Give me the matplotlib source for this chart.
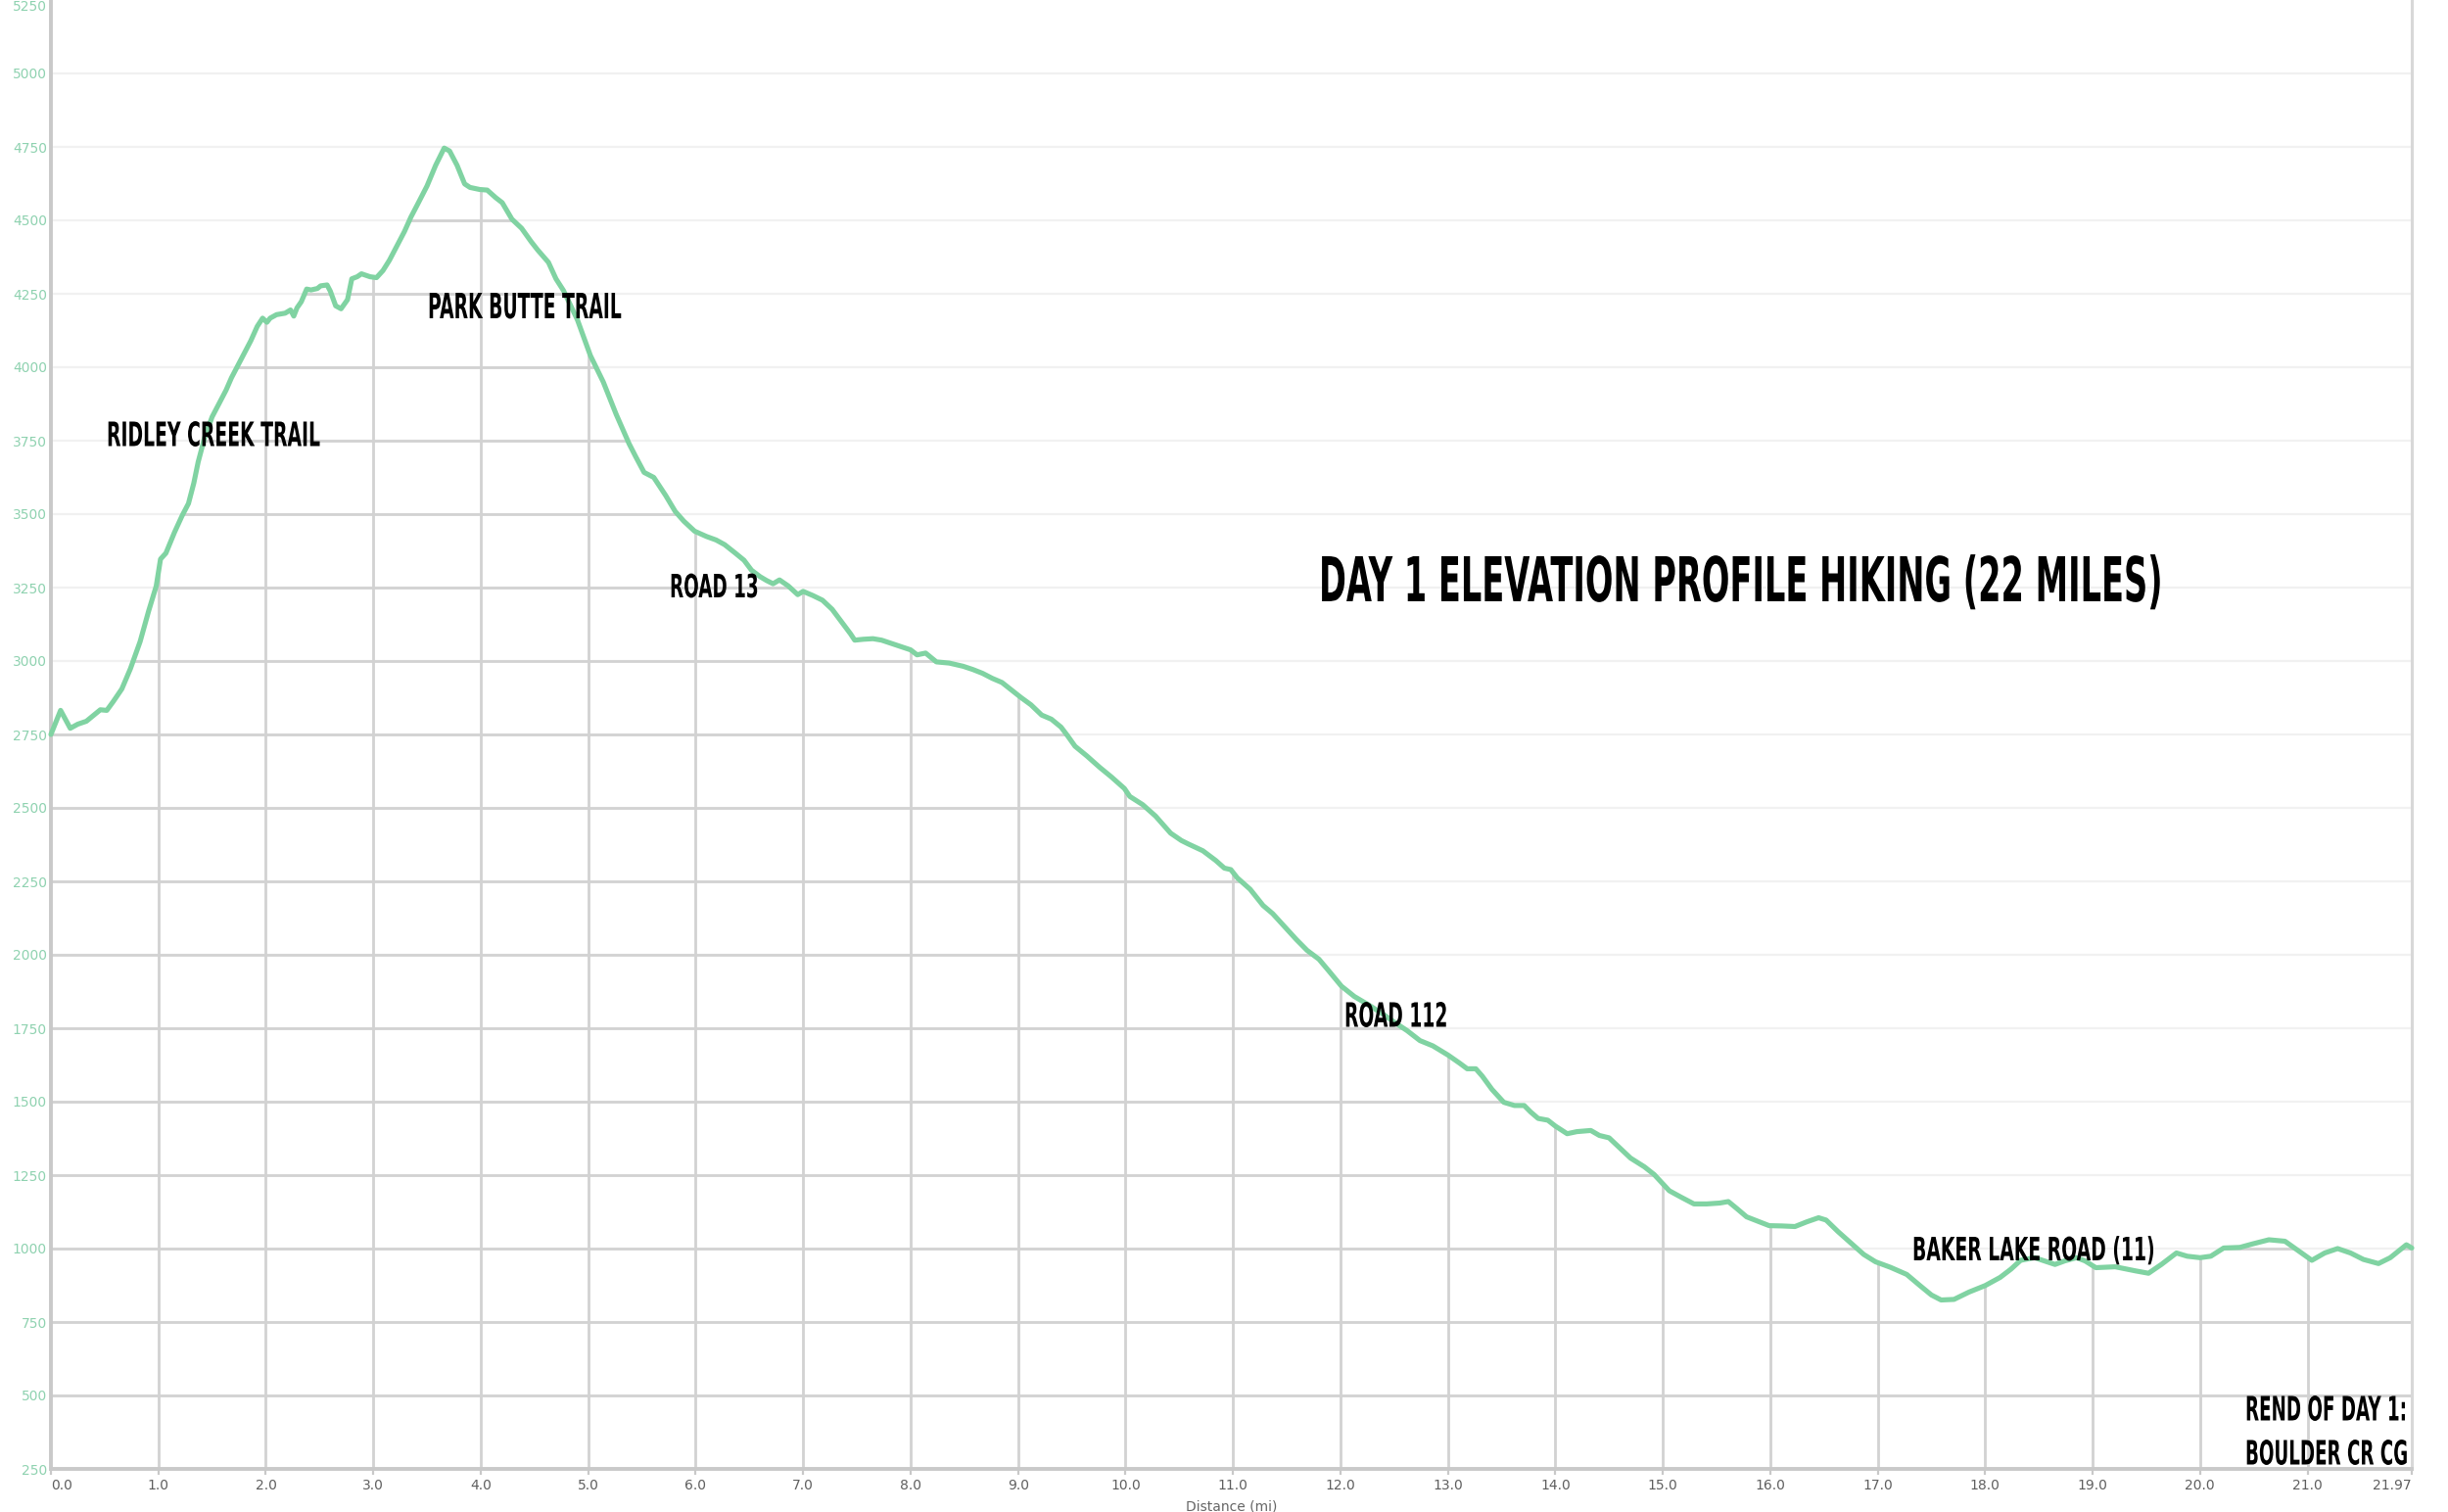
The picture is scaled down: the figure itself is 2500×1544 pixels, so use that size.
import matplotlib
matplotlib.use("Agg")
import matplotlib.pyplot as plt
from matplotlib.patches import Polygon
from matplotlib.patheffects import AbstractPathEffect
from matplotlib.transforms import Affine2D

# ---------------- data ----------------
dist_mi = [0.00, 0.09, 0.18, 0.25, 0.33, 0.40, 0.46, 0.52, 0.58, 0.66, 0.74, 0.83, 0.91, 0.98,
           1.02, 1.07, 1.15, 1.22, 1.28, 1.33, 1.37, 1.43, 1.50, 1.56, 1.63, 1.68, 1.74, 1.80,
           1.86, 1.92, 1.97, 2.01, 2.04, 2.10, 2.18, 2.23, 2.26, 2.29, 2.33, 2.38, 2.42, 2.48,
           2.51, 2.57, 2.60, 2.65, 2.70, 2.76, 2.80, 2.85, 2.89, 2.97, 3.03, 3.09, 3.15, 3.23,
           3.29, 3.35, 3.41, 3.50, 3.58, 3.66, 3.71, 3.78, 3.85, 3.90, 3.99, 4.06, 4.14, 4.20,
           4.29, 4.38, 4.47, 4.53, 4.63, 4.70, 4.77, 4.90, 5.02, 5.14, 5.26, 5.38, 5.44, 5.52,
           5.61, 5.72, 5.81, 5.89, 5.99, 6.10, 6.19, 6.27, 6.37, 6.45, 6.52, 6.60, 6.66, 6.72,
           6.78, 6.86, 6.95, 7.00, 7.09, 7.18, 7.27, 7.36, 7.44, 7.48, 7.56, 7.65, 7.73, 7.82,
           7.91, 8.00, 8.06, 8.14, 8.24, 8.36, 8.49, 8.58, 8.67, 8.76, 8.85, 8.94, 9.03, 9.12,
           9.22, 9.31, 9.40, 9.46, 9.53, 9.64, 9.76, 9.87, 9.99, 10.04, 10.16, 10.28, 10.42,
           10.52, 10.58, 10.72, 10.84, 10.92, 10.98, 11.04, 11.16, 11.28, 11.37, 11.48, 11.59,
           11.69, 11.80, 11.89, 12.01, 12.13, 12.26, 12.38, 12.50, 12.62, 12.74, 12.86, 13.00,
           13.11, 13.18, 13.26, 13.32, 13.41, 13.52, 13.62, 13.71, 13.77, 13.84, 13.93, 14.00,
           14.11, 14.20, 14.33, 14.41, 14.50, 14.59, 14.70, 14.83, 14.92, 15.06, 15.17, 15.29,
           15.41, 15.53, 15.61, 15.69, 15.78, 15.90, 15.99, 16.11, 16.23, 16.34, 16.45, 16.52,
           16.63, 16.75, 16.87, 16.98, 17.12, 17.27, 17.39, 17.50, 17.59, 17.71, 17.85, 18.00,
           18.14, 18.24, 18.33, 18.46, 18.55, 18.65, 18.74, 18.85, 18.93, 19.03, 19.21, 19.40,
           19.52, 19.64, 19.78, 19.88, 20.00, 20.10, 20.22, 20.37, 20.49, 20.64, 20.79, 20.92,
           21.04, 21.16, 21.28, 21.40, 21.52, 21.66, 21.77, 21.92, 21.97]
elev_ft = [2750, 2832, 2771, 2785, 2795, 2816, 2834, 2832, 2862, 2905, 2974, 3066, 3171, 3255,
           3347, 3367, 3438, 3494, 3536, 3606, 3677, 3760, 3831, 3873, 3922, 3964, 4006, 4048,
           4090, 4139, 4167, 4153, 4167, 4179, 4184, 4195, 4174, 4202, 4223, 4266, 4263, 4268,
           4277, 4280, 4259, 4209, 4199, 4230, 4301, 4308, 4318, 4308, 4305, 4329, 4364, 4420,
           4462, 4511, 4553, 4617, 4687, 4746, 4736, 4687, 4624, 4612, 4605, 4603, 4577, 4560,
           4504, 4473, 4427, 4399, 4357, 4301, 4261, 4161, 4040, 3950, 3840, 3740, 3697, 3642,
           3625, 3564, 3509, 3476, 3442, 3424, 3412, 3396, 3367, 3343, 3309, 3287, 3274, 3263,
           3276, 3256, 3226, 3237, 3223, 3207, 3176, 3132, 3093, 3071, 3074, 3076, 3071, 3060,
           3049, 3038, 3021, 3027, 2997, 2993, 2982, 2971, 2958, 2941, 2927, 2901, 2875, 2851,
           2816, 2802, 2775, 2746, 2710, 2677, 2638, 2605, 2566, 2539, 2511, 2472, 2414,
           2389, 2378, 2354, 2321, 2295, 2290, 2262, 2223, 2168, 2140, 2096, 2052,
           2015, 1985, 1946, 1893, 1858, 1830, 1802, 1771, 1742, 1708, 1690, 1659,
           1631, 1612, 1612, 1587, 1542, 1498, 1487, 1487, 1465, 1443, 1437, 1417,
           1391, 1398, 1402, 1385, 1377, 1346, 1308, 1278, 1252, 1197, 1175, 1152,
           1152, 1155, 1160, 1136, 1108, 1091, 1078, 1077, 1075, 1091, 1105, 1097,
           1058, 1019, 980, 955, 936, 912, 875, 842, 825, 827, 852, 874,
           902, 930, 960, 969, 958, 946, 958, 969, 958, 935, 938, 924,
           916, 946, 985, 974, 969, 974, 1002, 1004, 1016, 1030, 1025, 991,
           960, 985, 1000, 985, 963, 949, 969, 1013, 1002]

x_ticks = [0, 1, 2, 3, 4, 5, 6, 7, 8, 9, 10, 11, 12, 13, 14, 15, 16, 17, 18, 19, 20, 21, 21.97]
x_tick_labels = ["0.0", "1.0", "2.0", "3.0", "4.0", "5.0", "6.0", "7.0", "8.0", "9.0", "10.0",
                 "11.0", "12.0", "13.0", "14.0", "15.0", "16.0", "17.0", "18.0", "19.0",
                 "20.0", "21.0", "21.97"]
y_ticks = [250, 500, 750, 1000, 1250, 1500, 1750, 2000, 2250, 2500, 2750, 3000, 3250, 3500,
           3750, 4000, 4250, 4500, 4750, 5000, 5250]
y_tick_labels = [str(v) for v in y_ticks]

title_text = "DAY 1 ELEVATION PROFILE HIKING (22 MILES)"
label_texts = ["RIDLEY CREEK TRAIL", "PARK BUTTE TRAIL", "ROAD 13", "ROAD 112",
               "BAKER LAKE ROAD (11)", "REND OF DAY 1:", "BOULDER CR CG"]
x_label = "Distance (mi)"
y_label = "Elevation (ft)"

# ---------------- styling ----------------
W, H, DPI = 2500, 1544, 100
LINE_C = "#80d3a2"
YTICK_C = "#8fd2b0"
XTICK_C = "#5f5f5f"
GRID_DARK = "#d2d2d2"
GRID_FAINT = "#f1f1f1"
SPINE_C = "#c9c9c9"

fig = plt.figure(figsize=(W / DPI, H / DPI), dpi=DPI)
fig.patch.set_facecolor("white")
ax_left, ax_right, ax_top, ax_bot = 52, 2463, 0, 1500
ax = fig.add_axes([ax_left / W, 1 - ax_bot / H, (ax_right - ax_left) / W, (ax_bot - ax_top) / H])
ax.set_facecolor("white")
ax.set_xlim(0, 21.97)
ax.set_ylim(250, 5250)

# faint grid everywhere
ax.hlines(y_ticks[1:-1], 0, 21.97, colors=GRID_FAINT, linewidth=1.6, zorder=1)

# darker grid only under the profile
area = Polygon([(dist_mi[0], 250)] + list(zip(dist_mi, elev_ft)) + [(dist_mi[-1], 250)],
               closed=True, facecolor="none", edgecolor="none", transform=ax.transData)
hl = ax.hlines(y_ticks[1:-1], 0, 21.97, colors=GRID_DARK, linewidth=2.0, zorder=2)
vl = ax.vlines(x_ticks[1:-1], 250, 5250, colors=GRID_DARK, linewidth=2.0, zorder=2)
hl.set_clip_path(area)
vl.set_clip_path(area)

# profile line
ax.plot(dist_mi, elev_ft, color=LINE_C, linewidth=3.7, solid_joinstyle="round",
        solid_capstyle="round", zorder=4, clip_on=False)

# spines
ax.spines["top"].set_visible(False)
ax.spines["left"].set_color(SPINE_C)
ax.spines["left"].set_linewidth(2.8)
ax.spines["bottom"].set_color(SPINE_C)
ax.spines["bottom"].set_linewidth(2.8)
ax.spines["right"].set_color("#d8d8d8")
ax.spines["right"].set_linewidth(2.2)

# ticks
ax.set_xticks(x_ticks)
ax.set_xticklabels(x_tick_labels)
ax.set_yticks(y_ticks)
ax.set_yticklabels(y_tick_labels)
ax.tick_params(axis="x", colors=SPINE_C, labelcolor=XTICK_C, labelsize=10, length=4,
               width=1.6, pad=3.5)
ax.tick_params(axis="y", labelcolor=YTICK_C, labelsize=10, length=0, pad=3)
xt = ax.get_xticklabels()
xt[0].set_ha("left")
xt[-1].set_ha("right")
yt = ax.get_yticklabels()
yt[-1].set_va("top")
for lab in xt + yt:
    lab.set_family("DejaVu Sans")

ax.set_xlabel(x_label, fontsize=10, color="#666666")
ax.xaxis.set_label_coords(0.5, -(1532 - 1500) / 1500)
ax.set_ylabel(y_label, fontsize=10, color="#888888")
ax.yaxis.set_label_coords((2 - ax_left) / (ax_right - ax_left), 0.5)


# ---------------- condensed headline-style annotations ----------------
class GlyphScale(AbstractPathEffect):
    """Rescale glyph outlines about an anchor point (display px)."""

    def __init__(self, sx, sy, x0, y0):
        super().__init__()
        self.sx, self.sy, self.x0, self.y0 = sx, sy, x0, y0

    def draw_path(self, renderer, gc, tpath, affine, rgbFace=None):
        t = affine + (Affine2D().translate(-self.x0, -self.y0)
                      .scale(self.sx, self.sy).translate(self.x0, self.y0))
        renderer.draw_path(gc, tpath, t, rgbFace)


CAP_RATIO = 0.729  # DejaVu Sans Bold cap height / em
# (anchor, anchor x px, cap-centre y px, target width px, cap height px)
placements = [
    ("left", 109, 443, 218, 25),
    ("left", 437, 312, 198, 26),
    ("left", 684, 598, 91, 24),
    ("left", 1373, 1036, 105, 25),
    ("left", 1953, 1275, 247, 24),
    ("right", 2458, 1438, 165, 25),
    ("right", 2458, 1483, 165, 25),
    ("center", 1778, 591, 862, 46),
]
all_texts = label_texts + [title_text]
text_objs = []
for s, (anchor, axp, cy, tw, cap) in zip(all_texts, placements):
    baseline_y = cy + cap / 2
    t = fig.text(axp / W, 1 - baseline_y / H, s, fontsize=20, fontweight="bold",
                 family="DejaVu Sans", color="black", ha=anchor, va="baseline", zorder=6)
    text_objs.append((t, axp, baseline_y, tw, cap))

# size each text so its natural width equals the target width, then stretch vertically
renderer = fig.canvas.get_renderer()
for t, axp, baseline_y, tw, cap in text_objs:
    w0 = t.get_window_extent(renderer).width
    t.set_fontsize(20 * tw / w0)
renderer = fig.canvas.get_renderer()
for t, axp, baseline_y, tw, cap in text_objs:
    w1 = t.get_window_extent(renderer).width
    fs_px = t.get_fontsize() * DPI / 72
    sx = tw / w1
    sy = cap / (CAP_RATIO * fs_px)
    t.set_path_effects([GlyphScale(sx, sy, axp, H - baseline_y)])

fig.savefig("out.png", dpi=DPI, facecolor="white")
